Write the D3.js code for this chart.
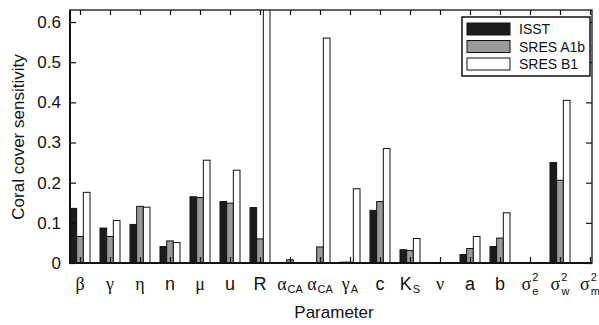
<!DOCTYPE html>
<html>
<head>
<meta charset="utf-8">
<script src="https://cdn.jsdelivr.net/npm/d3@7"></script>
<style>
  body{margin:0;background:#fff;}
  text{font-family:"Liberation Sans",Arial,sans-serif;fill:#111;}
</style>
</head>
<body>
<script>
// data
const categories = ['β','γ','η','n','μ','u','R','α_CA','α_CA','γ_A','c','K_S','ν','a','b','σ_e^2','σ_w^2','σ_m^2']
const series = ['ISST','SRES A1b','SRES B1']
const isst = [0.136,0.087,0.096,0.041,0.165,0.153,0.138,0,0,0.002,0.131,0.033,0.001,0.021,0.041,0,0.250,0]
const a1b  = [0.066,0.066,0.141,0.055,0.163,0.149,0.060,0.008,0.040,0.002,0.153,0.031,0,0.036,0.062,0.001,0.206,0]
const b1   = [0.176,0.106,0.139,0.051,0.256,0.231,0.75,0,0.560,0.185,0.285,0.061,0,0.066,0.125,0.001,0.405,0]
const yTicks = [0,0.1,0.2,0.3,0.4,0.5,0.6]
const yTickLabels = ['0','0.1','0.2','0.3','0.4','0.5','0.6']
const colors = ['#1c1c1c','#9a9a9a','#ffffff']

let size = {width:599,height:325,left:70,right:592,top:10,bottom:263}

let svg = d3.select('body')
            .append('svg')
            .attr('width',size.width)
            .attr('height',size.height)

//scales
let xScale = d3.scaleLinear()
               .domain([-1/3, 17 + 2/30])
               .range([size.left,size.right])
let inner = d3.scaleBand()
              .domain(series)
              .range([-10,10])
let yScale = d3.scaleLinear()
               .domain([0,0.63])
               .range([size.bottom,size.top])

svg.append('clipPath').attr('id','plot')
   .append('rect')
   .attr('x',size.left).attr('y',size.top)
   .attr('width',size.right-size.left).attr('height',size.bottom-size.top)

//bars
let values = [isst,a1b,b1]
let rows = []
categories.forEach((c,i)=>{
    series.forEach((s,j)=>{
        rows.push({i:i,s:s,j:j,v:values[j][i]})
    })
})
svg.append('g')
   .attr('clip-path','url(#plot)')
   .selectAll('rect')
   .data(rows.filter(d=>d.v>0))
   .enter()
   .append('rect')
   .attr('x',d=>xScale(d.i)+inner(d.s))
   .attr('width',inner.bandwidth())
   .attr('y',d=>yScale(d.v))
   .attr('height',d=>yScale(0)-yScale(d.v))
   .attr('fill',d=>colors[d.j])
   .attr('stroke','#111')
   .attr('stroke-width',1)

//axes - ticks point inward
let idx = d3.range(categories.length)
svg.append('g')
   .attr('transform',`translate(0,${size.bottom})`)
   .call(d3.axisBottom(xScale).tickValues(idx).tickSize(-6).tickFormat(''))
svg.append('g')
   .attr('transform',`translate(0,${size.top})`)
   .call(d3.axisTop(xScale).tickValues(idx).tickSize(-5).tickFormat(''))
svg.append('g')
   .attr('transform',`translate(${size.left},0)`)
   .call(d3.axisLeft(yScale).tickValues(yTicks).tickSize(-6).tickFormat((d,i)=>yTickLabels[i]).tickPadding(9))
svg.append('g')
   .attr('transform',`translate(${size.right},0)`)
   .call(d3.axisRight(yScale).tickValues(yTicks).tickSize(-6).tickFormat(''))
svg.selectAll('.domain').remove()
svg.selectAll('.tick line').attr('stroke','#111').attr('stroke-width',1.2)
svg.selectAll('.tick text').style('font-size','17px').attr('fill','#111')

//frame
svg.append('rect')
   .attr('x',size.left).attr('y',size.top)
   .attr('width',size.right-size.left).attr('height',size.bottom-size.top)
   .attr('fill','none').attr('stroke','#111').attr('stroke-width',1.3)
svg.append('path')
   .attr('d',`M${size.left},${size.top}V${size.bottom}H${size.right}`)
   .attr('fill','none').attr('stroke','#111').attr('stroke-width',2)

//category labels with sub / superscripts
const greek = /[α-ω]/
categories.forEach((c,i)=>{
    let main = c.split('_')[0]
    let rest = c.split('_')[1] || ''
    let sub = rest.split('^')[0]
    let sup = rest.split('^')[1]
    let t = svg.append('text')
               .attr('x',xScale(i))
               .attr('y',290)
               .attr('text-anchor','middle')
    t.append('tspan')
     .text(main)
     .style('font-size','18px')
     .style('font-family',greek.test(main)?'"Liberation Serif",serif':null)
    if(sup){
        t.append('tspan').text(sup).style('font-size','11px').attr('dx',1).attr('dy',-9)
        t.append('tspan').text(sub).style('font-size','11px').attr('dx',-6).attr('dy',14)
    }else if(sub){
        t.append('tspan').text(sub).style('font-size','11px').attr('dx',1).attr('dy',3)
    }
})

//axis titles
svg.append('text')
   .attr('x',334)
   .attr('y',318)
   .attr('text-anchor','middle')
   .style('font-size','17px')
   .text('Parameter')
svg.append('text')
   .attr('transform','translate(24,137) rotate(-90)')
   .attr('text-anchor','middle')
   .style('font-size','17px')
   .text('Coral cover sensitivity')

//legend
let legend = svg.append('g').attr('id','legend')
legend.append('rect')
      .attr('x',462).attr('y',17).attr('width',128).attr('height',59)
      .attr('fill','#fff').attr('stroke','#111').attr('stroke-width',1.5)
series.forEach((s,j)=>{
    legend.append('rect')
          .attr('x',467).attr('y',23+j*17.5).attr('width',43).attr('height',12)
          .attr('fill',colors[j]).attr('stroke','#111').attr('stroke-width',1)
    legend.append('text')
          .attr('x',519).attr('y',34+j*17.5)
          .style('font-size','14px')
          .text(s)
})
</script>
</body>
</html>
